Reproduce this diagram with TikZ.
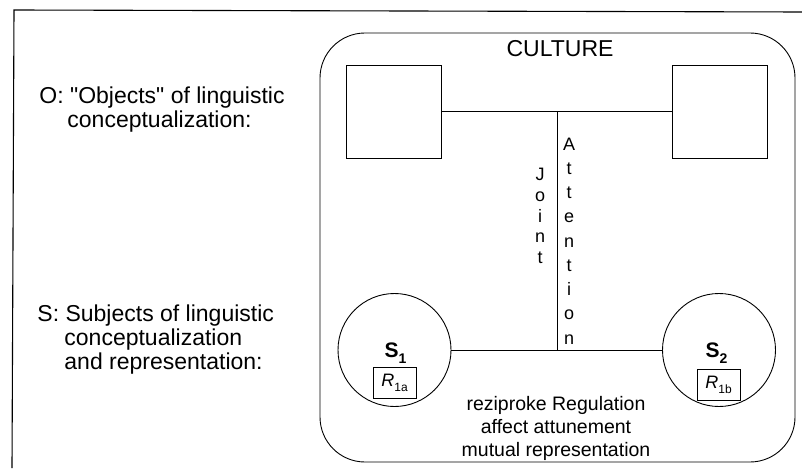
\documentclass[tikz,border=0pt]{standalone}
\usepackage{fontspec}
\setmainfont{Liberation Sans}
\newfontfamily\plainsans{Liberation Sans}
\begin{document}
\begin{tikzpicture}[x=1pt,y=-1pt,line width=0.9pt,
  lefttext/.style={font=\plainsans\fontsize{23}{25}\selectfont,inner sep=0pt,anchor=base west},
  bottext/.style={font=\fontsize{19.5}{23}\selectfont,inner sep=0pt,anchor=base},
  vletter/.style={font=\fontsize{18}{20}\selectfont,inner sep=0pt,anchor=base},
  objbox/.style={draw,minimum width=95pt,minimum height=93pt,inner sep=0pt},
  subjcirc/.style={draw,circle,minimum size=113pt,inner sep=0pt},
  rbox/.style={draw,minimum width=43pt,minimum height=31pt,inner sep=0pt},
  slabel/.style={font=\fontsize{21}{21}\selectfont\bfseries,inner sep=0pt,anchor=base}]
\useasboundingbox (0,0) rectangle (802,468);
% outer frame
\draw[line width=1.1pt] (12,468) -- (14,10) -- (802,12);
% culture rounded rectangle
\node[draw,rounded corners=45pt,minimum width=475pt,minimum height=429pt,inner sep=0pt] (cult) at (557.5,247.5) {};
\node[font=\fontsize{23}{25}\selectfont,inner sep=0pt,anchor=base] (culture) at (560,57) {CULTURE};
% object boxes
\node[objbox] (o1) at (393.5,111.5) {};
\node[objbox] (o2) at (719.5,111.5) {};
\draw (o1.east) -- (o2.west);
% subject circles
\node[subjcirc] (s1) at (394.5,350) {};
\node[subjcirc] (s2) at (719,350) {};
\draw (s1.east) -- (s2.west);
% joint attention axis
\coordinate (ja) at (557,111.5);
\coordinate (jb) at (557,350);
\draw (ja) -- (jb);
\foreach \ch [count=\i] in {J,o,i,n,t}
  \node[vletter] (joint\i) at (540,{180.5+(\i-1)*20.75}) {\ch};
\foreach \ch [count=\i] in {A,t,t,e,n,t,i,o,n}
  \node[vletter] (att\i) at (569,{150+(\i-1)*24.25}) {\ch};
% subject labels
\node[slabel] (s1lab) at (395.5,357) {S\raisebox{-6pt}{\fontsize{14}{14}\selectfont 1}};
\node[slabel] (s2lab) at (716.5,357) {S\raisebox{-6pt}{\fontsize{14}{14}\selectfont 2}};
\node[rbox] (r1) at (394.5,383) {\fontsize{18}{18}\selectfont\textit{R}\raisebox{-5pt}{\fontsize{12}{12}\selectfont 1a}};
\node[rbox] (r2) at (718.5,385) {\fontsize{18}{18}\selectfont\textit{R}\raisebox{-5pt}{\fontsize{12}{12}\selectfont 1b}};
% bottom text
\node[bottext] (reg1) at (556,410) {reziproke Regulation};
\node[bottext] (reg2) at (556,433) {affect attunement};
\node[bottext] (reg3) at (556,456) {mutual representation};
% left texts
\node[lefttext] (ola) at (39,103) {O: "Objects" of linguistic};
\node[lefttext] (olb) at (67,127) {conceptualization:};
\node[lefttext] (sla) at (37,321) {S: Subjects of linguistic};
\node[lefttext] (slb) at (64,345) {conceptualization};
\node[lefttext] (slc) at (64,369) {and representation:};
\end{tikzpicture}
\end{document}
